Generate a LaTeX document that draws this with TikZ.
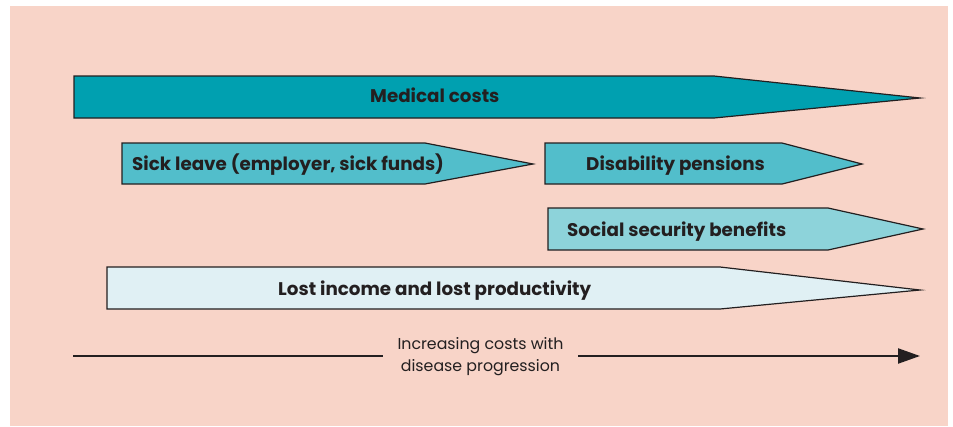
\documentclass[tikz,border=0pt]{standalone}
\usepackage{fontspec}
\setmainfont{Poppins}
\usetikzlibrary{arrows.meta}

\definecolor{bgpink}{HTML}{F8D4C8}
\definecolor{ink}{HTML}{231F20}
\definecolor{tealdark}{HTML}{00A0B0}
\definecolor{tealmid}{HTML}{52BECB}
\definecolor{teallight}{HTML}{8DD3DA}
\definecolor{tealpale}{HTML}{E0F0F4}

\begin{document}
\begin{tikzpicture}[x=1pt, y=-1pt, every node/.style={text=ink}]
  % Styles
  \tikzset{
    bar/.style = {draw=ink, line width=1.2pt, line join=miter},
    barlabel/.style = {anchor=base west, inner sep=0pt, font=\bfseries\fontsize{18.3}{22}\selectfont},
    axis/.style = {draw=ink, line width=2.2pt},
    caption/.style = {align=center, inner sep=0pt, minimum width=195pt, font=\fontsize{15.8}{22}\selectfont}
  }

  % Canvas
  \useasboundingbox (0,0) rectangle (953,426);
  \fill[bgpink] (10,6) rectangle (948,426);

  % Cost bars
  \draw[bar, fill=tealdark] (74,76) -- (714,76) -- (920,98) -- (714,118) -- (74,118) -- cycle;
  \draw[bar, fill=tealmid] (122,143) -- (425,143) -- (533,164) -- (425,184) -- (122,184) -- cycle;
  \draw[bar, fill=tealmid] (545,143) -- (782,143) -- (862,164) -- (782,184) -- (545,184) -- cycle;
  \draw[bar, fill=teallight] (548,208) -- (828,208) -- (923,229) -- (828,250) -- (548,250) -- cycle;
  \draw[bar, fill=tealpale] (107,267) -- (720,267) -- (920,290) -- (720,309) -- (107,309) -- cycle;

  % Bar labels (placed on their baselines)
  \node[barlabel] (Medical) at (370,102) {Medical costs};
  \node[barlabel] (SickLeave) at (132,170.5) {Sick leave (employer, sick funds)};
  \node[barlabel] (Disability) at (586,170.5) {Disability pensions};
  \node[barlabel] (SocialSecurity) at (567,236) {Social security benefits};
  \node[barlabel] (LostIncome) at (278,295.5) {Lost income and lost productivity};

  % Time axis
  \node[caption] (Caption) at (480.5,357) {Increasing costs with\\disease progression};
  \coordinate (AxisStart) at (73,356);
  \coordinate (AxisEnd) at (920,356);

  \draw[axis] (AxisStart) -- (AxisStart -| Caption.west);
  \draw[axis, -{Triangle[length=22pt, width=15pt]}] (AxisEnd -| Caption.east) -- (AxisEnd);

\end{tikzpicture}
\end{document}
